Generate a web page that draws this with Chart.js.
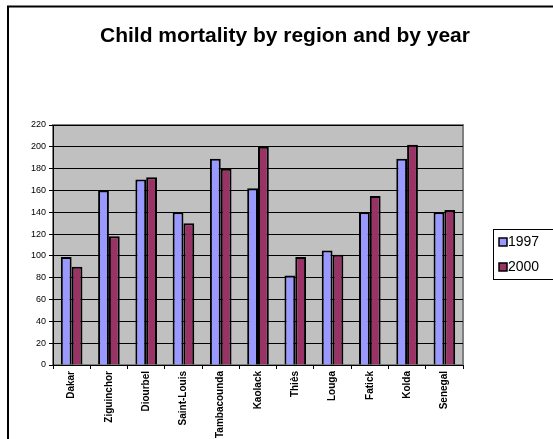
<!DOCTYPE html>
<html>
<head>
<meta charset="utf-8">
<script src="https://cdn.jsdelivr.net/npm/chart.js@4/dist/chart.umd.min.js"></script>
<style>
  html, body { margin: 0; padding: 0; background: #ffffff; }
  #wrap { position: relative; width: 553px; height: 439px; }
</style>
</head>
<body>
<div id="wrap"><canvas id="c" width="553" height="439"></canvas></div>
<script>
const regions = ['Dakar', 'Ziguinchor', 'Diourbel', 'Saint-Louis', 'Tambacounda', 'Kaolack', 'Thiès', 'Louga', 'Fatick', 'Kolda', 'Senegal'];
const years = ['1997', '2000'];
const mortality1997 = [99, 160, 170, 140, 189, 162, 82, 105, 140, 189, 140];
const mortality2000 = [90, 118, 172, 130, 180, 200, 99, 101, 155, 202, 142];
const yTicks = [0, 20, 40, 60, 80, 100, 120, 140, 160, 180, 200, 220];
const chartTitle = 'Child mortality by region and by year';

const FONT = "'Liberation Sans', Arial, sans-serif";

// Grey plot background, frame, outer chart border, title and legend box
const framePlugin = {
  id: 'frame',
  beforeDraw(chart) {
    const { ctx, chartArea: a } = chart;
    ctx.save();
    ctx.fillStyle = '#ffffff';
    ctx.fillRect(0, 0, chart.width, chart.height);
    ctx.strokeStyle = '#000000';
    ctx.lineWidth = 2;
    ctx.strokeRect(8, 6.5, 600, 500);
    ctx.fillStyle = '#c0c0c0';
    ctx.fillRect(a.left, a.top, a.right - a.left, a.bottom - a.top);
    ctx.strokeStyle = '#808080';
    ctx.lineWidth = 2;
    ctx.strokeRect(a.left, a.top, a.right - a.left, a.bottom - a.top);

    ctx.fillStyle = '#000000';
    ctx.font = 'bold 21px ' + FONT;
    ctx.textAlign = 'center';
    ctx.textBaseline = 'alphabetic';
    ctx.fillText(chartTitle, 285, 42);
    ctx.restore();
  },
  afterDraw(chart) {
    const { ctx } = chart;
    const x = 493.5, y = 229.5, w = 60, h = 50;
    ctx.save();
    ctx.fillStyle = '#ffffff';
    ctx.fillRect(x, y, w, h);
    ctx.strokeStyle = '#000000';
    ctx.lineWidth = 1;
    ctx.strokeRect(x, y, w, h);
    chart.data.datasets.forEach((ds, i) => {
      const cy = 242 + i * 25;
      ctx.fillStyle = ds.backgroundColor;
      ctx.fillRect(499, cy - 4, 8, 8);
      ctx.strokeStyle = '#000000';
      ctx.lineWidth = 1.5;
      ctx.strokeRect(499, cy - 4, 8, 8);
      ctx.fillStyle = '#000000';
      ctx.font = '14px ' + FONT;
      ctx.textBaseline = 'middle';
      ctx.textAlign = 'left';
      ctx.fillText(ds.label, 508, cy + 0.5);
    });
    ctx.restore();
  }
};

new Chart(document.getElementById('c'), {
  type: 'bar',
  data: {
    labels: regions,
    datasets: [
      { label: years[0], data: mortality1997, backgroundColor: '#9999ff', borderColor: '#000000', borderWidth: 2 },
      { label: years[1], data: mortality2000, backgroundColor: '#993366', borderColor: '#000000', borderWidth: 2 }
    ]
  },
  options: {
    responsive: false,
    animation: false,
    devicePixelRatio: 1,
    layout: { padding: { left: 0, top: 125, right: 90, bottom: 0 } },
    datasets: { bar: { categoryPercentage: 0.58, barPercentage: 1.0 } },
    plugins: {
      legend: { display: false },
      tooltip: { enabled: false },
      title: { display: false }
    },
    scales: {
      x: {
        afterFit(s) { s.height = 74; },
        grid: { display: true, offset: true, drawOnChartArea: false, color: '#000000', tickLength: 4, tickColor: '#000000' },
        border: { display: true, color: '#000000', width: 1 },
        ticks: {
          color: '#000000',
          font: { family: FONT, size: 10, weight: 'bold' },
          minRotation: 90, maxRotation: 90,
          autoSkip: false,
          padding: 2
        }
      },
      y: {
        min: 0, max: 220,
        afterFit(s) { s.width = 53; },
        afterBuildTicks(s) { s.ticks = yTicks.map(v => ({ value: v })); },
        grid: { display: true, color: '#000000', lineWidth: 1, tickLength: 4, tickColor: '#000000' },
        border: { display: true, color: '#000000', width: 1 },
        ticks: {
          color: '#000000',
          font: { family: FONT, size: 9 },
          padding: 3
        }
      }
    }
  },
  plugins: [framePlugin]
});
</script>
</body>
</html>
